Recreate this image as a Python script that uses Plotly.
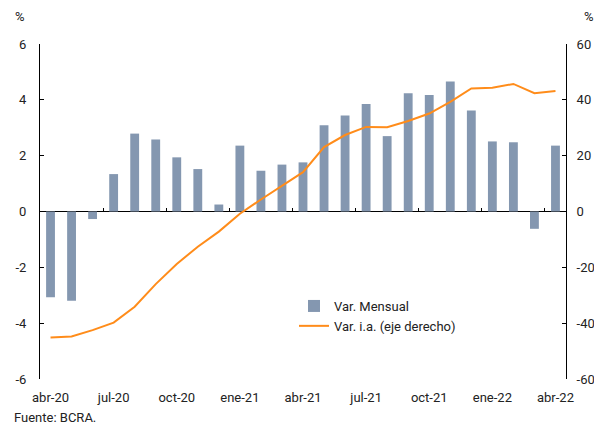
import plotly.graph_objects as go

months = ["abr-20", "may-20", "jun-20", "jul-20", "ago-20", "sep-20", "oct-20", "nov-20", "dic-20",
          "ene-21", "feb-21", "mar-21", "abr-21", "may-21", "jun-21", "jul-21", "ago-21", "sep-21",
          "oct-21", "nov-21", "dic-21", "ene-22", "feb-22", "mar-22", "abr-22"]
var_mensual = [-3.07, -3.2, -0.27, 1.34, 2.79, 2.58, 1.94, 1.52, 0.25,
               2.36, 1.46, 1.68, 1.76, 3.09, 3.44, 3.85, 2.70, 4.24,
               4.17, 4.66, 3.62, 2.51, 2.48, -0.62, 2.36]
var_ia = [-45.1, -44.8, -42.5, -39.8, -34.1, -26.0, -18.8, -12.6, -7.2,
          -0.8, 4.3, 9.3, 14.1, 23.1, 27.4, 30.3, 30.2, 32.4,
          35.1, 39.3, 44.1, 44.3, 45.7, 42.4, 43.2]
label_months = ["abr-20", "jul-20", "oct-20", "ene-21", "abr-21", "jul-21", "oct-21", "ene-22", "abr-22"]
left_ticks = [-6, -4, -2, 0, 2, 4, 6]
right_ticks = [-60, -40, -20, 0, 20, 40, 60]

xi = list(range(len(months)))
label_idx = [months.index(m) for m in label_months]
boundary_idx = [i - 0.5 for i in label_idx[1:]]

font = dict(family="Roboto", size=13, color="#222222")

# Page offset (default body margin) compensation
OFF = 8
W, H = 602, 427
# Desired plot area in page pixels
P_L, P_R, P_T, P_B = 40, 566, 44, 379
l, t = P_L - OFF, P_T - OFF
r = W - (P_R - OFF)
b = H - (P_B - OFF)
pw, ph = W - l - r, H - t - b


def page_to_paper(px, py):
    fx, fy = px - OFF, py - OFF
    return (fx - l) / pw, (H - b - fy) / ph


fig = go.Figure()
fig.add_trace(go.Bar(x=xi, y=var_mensual, name="Var. Mensual",
                     marker=dict(color="#8497B0", line=dict(width=0)),
                     xaxis="x", yaxis="y"))
fig.add_trace(go.Scatter(x=xi, y=var_ia, name="Var. i.a. (eje derecho)", mode="lines",
                         line=dict(color="#FF8C1A", width=2),
                         xaxis="x2", yaxis="y2"))

xr = [-0.5, len(months) - 0.5]
ann = []
for txt, px, py, anchor in [("%", 20, 17, "center"), ("%", 589, 17, "center"),
                            ("Fuente: BCRA.", 12, 417, "left")]:
    ax_, ay_ = page_to_paper(px, py)
    ann.append(dict(text=txt, x=ax_, y=ay_, xref="paper", yref="paper", showarrow=False,
                    xanchor=anchor, yanchor="middle", font=font))

lx, ly = page_to_paper(294, 291)
fig.update_layout(
    width=W, height=H,
    margin=dict(l=l, r=r, t=t, b=b, autoexpand=False),
    paper_bgcolor="white", plot_bgcolor="white",
    font=font,
    bargap=0.58,
    showlegend=True,
    legend=dict(x=lx, y=ly, xanchor="left", yanchor="top",
                bgcolor="rgba(0,0,0,0)", font=font, tracegroupgap=0,
                itemwidth=30),
    xaxis=dict(range=xr, tickmode="array", tickvals=label_idx, ticktext=label_months,
               ticks="", showline=False, showgrid=False, zeroline=False, tickfont=font,
               ticklabelstandoff=9, automargin=False),
    xaxis2=dict(range=xr, overlaying="x", anchor="free", position=0.5, side="bottom",
                tickmode="array", tickvals=boundary_idx, ticks="inside", ticklen=4,
                tickcolor="black", showticklabels=False, showline=False,
                showgrid=False, zeroline=False, automargin=False),
    yaxis=dict(range=[-6, 6], tickmode="array", tickvals=left_ticks,
               ticktext=[str(v) for v in left_ticks],
               ticks="inside", ticklen=4, tickcolor="black",
               showline=True, linecolor="black", linewidth=1, showgrid=False,
               zeroline=True, zerolinecolor="black", zerolinewidth=1,
               ticklabelstandoff=10, tickfont=font, automargin=False),
    yaxis2=dict(range=[-60, 60], tickmode="array", tickvals=right_ticks,
                ticktext=[str(v) for v in right_ticks],
                ticks="inside", ticklen=4, tickcolor="black",
                overlaying="y", side="right", anchor="x",
                showline=True, linecolor="black", linewidth=1, showgrid=False, zeroline=False,
                ticklabelstandoff=7, tickfont=font, automargin=False),
    annotations=ann,
)

fig.write_html("out.html")
